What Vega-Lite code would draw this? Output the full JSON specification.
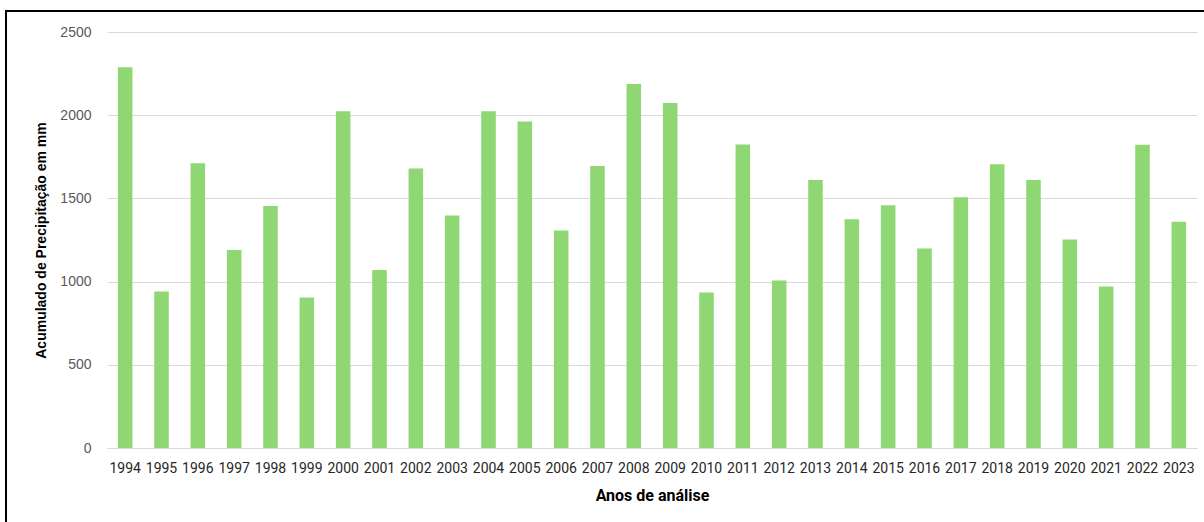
{
  "$schema": "https://vega.github.io/schema/vega-lite/v6.json",
  "autosize": {"type": "none"},
  "padding": {"left": 6, "top": 11, "right": -4, "bottom": -4},
  "width": 1202,
  "height": 515,
  "background": "white",
  "config": {
    "view": {"stroke": "#000000", "strokeWidth": 2},
    "font": "Roboto"
  },
  "data": {
    "values": [
      {"ano": "1994", "mm": 2288},
      {"ano": "1995", "mm": 940},
      {"ano": "1996", "mm": 1711},
      {"ano": "1997", "mm": 1190},
      {"ano": "1998", "mm": 1455},
      {"ano": "1999", "mm": 904},
      {"ano": "2000", "mm": 2024},
      {"ano": "2001", "mm": 1070},
      {"ano": "2002", "mm": 1679},
      {"ano": "2003", "mm": 1397},
      {"ano": "2004", "mm": 2024},
      {"ano": "2005", "mm": 1962},
      {"ano": "2006", "mm": 1307},
      {"ano": "2007", "mm": 1695},
      {"ano": "2008", "mm": 2188},
      {"ano": "2009", "mm": 2074},
      {"ano": "2010", "mm": 934},
      {"ano": "2011", "mm": 1824},
      {"ano": "2012", "mm": 1006},
      {"ano": "2013", "mm": 1611},
      {"ano": "2014", "mm": 1375},
      {"ano": "2015", "mm": 1459},
      {"ano": "2016", "mm": 1199},
      {"ano": "2017", "mm": 1507},
      {"ano": "2018", "mm": 1705},
      {"ano": "2019", "mm": 1611},
      {"ano": "2020", "mm": 1253},
      {"ano": "2021", "mm": 970},
      {"ano": "2022", "mm": 1822},
      {"ano": "2023", "mm": 1359}
    ]
  },
  "mark": {"type": "bar", "color": "#8ED773"},
  "encoding": {
    "x": {
      "field": "ano",
      "type": "ordinal",
      "scale": {"range": [101, 1191], "paddingInner": 0.6, "paddingOuter": 0.3},
      "axis": {
        "title": "Anos de análise",
        "offset": -78,
        "labelAngle": 0,
        "labelFont": "Roboto",
        "labelFontSize": 14,
        "labelColor": "#262626",
        "labelPadding": 13,
        "ticks": false,
        "tickSize": 0,
        "domainColor": "#d9d9d9",
        "domainWidth": 1,
        "titleFont": "Roboto",
        "titleFontSize": 16,
        "titleFontWeight": "bold",
        "titleColor": "#000000",
        "titlePadding": 12
      }
    },
    "y": {
      "field": "mm",
      "type": "quantitative",
      "scale": {"domain": [0, 2500], "range": [437, 21], "nice": false},
      "axis": {
        "title": "Acumulado de Precipitação em mm",
        "offset": -101,
        "values": [0, 500, 1000, 1500, 2000, 2500],
        "format": "d",
        "domain": false,
        "ticks": false,
        "tickSize": 0,
        "labelFont": "Liberation Sans",
        "labelFontSize": 14,
        "labelColor": "#595959",
        "labelPadding": 16,
        "gridColor": "#d9d9d9",
        "gridWidth": 1,
        "titleFont": "Liberation Sans",
        "titleFontSize": 14,
        "titleFontWeight": "bold",
        "titleColor": "#000000",
        "titlePadding": 11
      }
    }
  }
}
